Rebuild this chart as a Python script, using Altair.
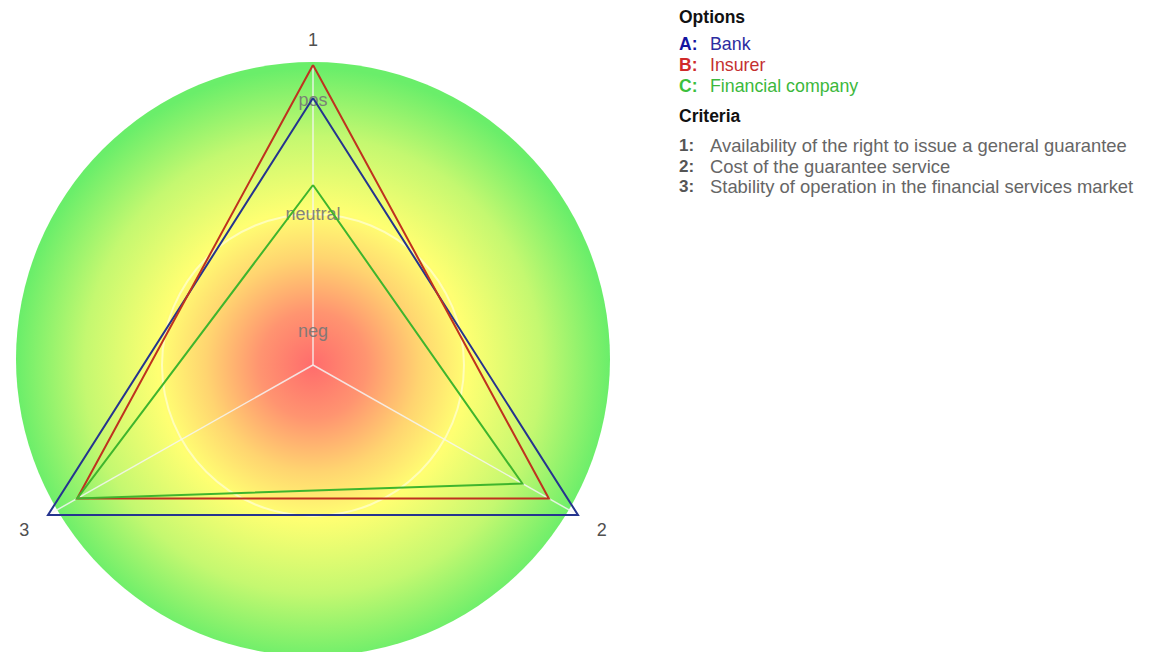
import math
import altair as alt
import pandas as pd

# ---------------- data ----------------
criteria = ["1", "2", "3"]
criteria_text = [
    "Availability of the right to issue a general guarantee",
    "Cost of the guarantee service",
    "Stability of operation in the financial services market",
]
option_codes = ["A", "B", "C"]
option_names = ["Bank", "Insurer", "Financial company"]
option_colors = ["#25348f", "#bf321f", "#3fb52d"]
legend_code_colors = ["#1414a0", "#d02a2a", "#3cc03c"]
legend_text_colors = ["#2c2ca0", "#c43030", "#3cb83c"]

bank = [0.89, 1.0, 1.0]
insurer = [1.0, 0.89, 0.89]
financial = [0.60, 0.79, 0.89]
series = [bank, insurer, financial]

level_labels = ["pos", "neutral", "neg"]
level_radius = [0.88, 0.5, 0.11]

# ---------------- tables ----------------
rows = []
for name, vals in zip(option_names, series):
    for k in range(len(criteria) + 1):
        idx = k % len(criteria)
        rows.append({"option": name, "idx": idx, "order": k, "r": vals[idx]})
lines_df = pd.DataFrame(rows)

spokes_df = pd.DataFrame({"crit": criteria, "idx": list(range(len(criteria)))})
levels_df = pd.DataFrame({"label": level_labels, "r": level_radius})
center_df = pd.DataFrame({"cx": [0.0], "cy": [0.02]})

TOP = 4
W, H = 1137, 640
xs = alt.Scale(domain=[-0.99673, 2.71897], nice=False, zero=False)
ys = alt.Scale(domain=[-0.95667, 1.17667], nice=False, zero=False)

ang = "datum.idx * 2 * PI / 3"

gradient = {
    "gradient": "radial",
    "x1": 0.5, "y1": 0.51, "r1": 0,
    "x2": 0.5, "y2": 0.51, "r2": 0.5,
    "stops": [
        {"offset": 0.0, "color": "#ff6c6c"},
        {"offset": 0.18, "color": "#ff9470"},
        {"offset": 0.36, "color": "#ffd470"},
        {"offset": 0.52, "color": "#ffff72"},
        {"offset": 0.77, "color": "#c4f870"},
        {"offset": 1.0, "color": "#6aee6a"},
    ],
}

bg = alt.Chart(center_df).mark_arc(
    radius=297, radius2=0, theta=0, theta2=2 * math.pi, fill=gradient, strokeWidth=0
).encode(
    x=alt.X("cx:Q", scale=xs, axis=None),
    y=alt.Y("cy:Q", scale=ys, axis=None),
)

ring = alt.Chart(center_df).mark_arc(
    radius=152, radius2=150, theta=0, theta2=2 * math.pi, fill="white", opacity=0.5
).encode(
    x=alt.X("x0:Q", scale=xs, axis=None),
    y=alt.Y("y0:Q", scale=ys, axis=None),
).transform_calculate(x0="0", y0="0")

spokes = alt.Chart(spokes_df).transform_calculate(
    x0="0", y0="0", x1=f"sin({ang})", y1=f"cos({ang})"
).mark_rule(color="#f4f4f4", strokeWidth=1.5, opacity=0.85).encode(
    x=alt.X("x0:Q", scale=xs, axis=None),
    y=alt.Y("y0:Q", scale=ys, axis=None),
    x2="x1:Q",
    y2="y1:Q",
)

level_text = alt.Chart(levels_df).transform_calculate(x0="0").mark_text(
    font="Liberation Sans", fontSize=18, color="#777777", opacity=0.9, baseline="middle"
).encode(
    x=alt.X("x0:Q", scale=xs, axis=None),
    y=alt.Y("r:Q", scale=ys, axis=None),
    text="label:N",
)

lines = alt.Chart(lines_df).transform_calculate(
    px=f"datum.r * sin({ang})", py=f"datum.r * cos({ang})"
).mark_line(strokeWidth=2).encode(
    x=alt.X("px:Q", scale=xs, axis=None),
    y=alt.Y("py:Q", scale=ys, axis=None),
    color=alt.Color("option:N", scale=alt.Scale(domain=option_names, range=option_colors), legend=None),
    order="order:Q",
    detail="option:N",
)

crit_labels = alt.Chart(spokes_df).transform_calculate(
    px=f"1.09 * sin({ang})", py=f"1.09 * cos({ang})"
).mark_text(font="Liberation Sans", fontSize=18, color="#505050", baseline="middle", dy=3).encode(
    x=alt.X("px:Q", scale=xs, axis=None),
    y=alt.Y("py:Q", scale=ys, axis=None),
    text="crit:N",
)

# ---------------- legend (text annotations) ----------------
legend_layers = []
XC, XT = 671, 702
def txt(s, x, y, color, size, bold=False):
    return alt.Chart(pd.DataFrame({"t": [s]})).mark_text(
        font="Liberation Sans", fontSize=size, color=color, align="left", baseline="middle",
        fontWeight="bold" if bold else "normal",
    ).encode(x=alt.value(x), y=alt.value(y - TOP), text="t:N")

legend_layers.append(txt("Options", XC, 9.5, "#111111", 17.5, True))
for i, (c, n) in enumerate(zip(option_codes, option_names)):
    y = 37 + i * 21
    legend_layers.append(txt(c + ":", XC, y, legend_code_colors[i], 17.5, True))
    legend_layers.append(txt(n, XT, y, legend_text_colors[i], 17.8))
legend_layers.append(txt("Criteria", XC, 109, "#111111", 17.5, True))
for i, (c, t) in enumerate(zip(criteria, criteria_text)):
    y = 138 + i * 20.5
    legend_layers.append(txt(c + ":", XC, y, "#555555", 17, True))
    legend_layers.append(txt(t, XT, y, "#666666", 18.4))

chart = alt.layer(bg, ring, spokes, level_text, lines, crit_labels, *legend_layers).properties(
    width=W, height=H,
    padding={"left": 0, "top": TOP, "right": 0, "bottom": 0},
    autosize=alt.AutoSizeParams(type="none"),
).configure_view(stroke=None)

chart.save("out.html", embed_options={"renderer": "svg", "actions": False})
